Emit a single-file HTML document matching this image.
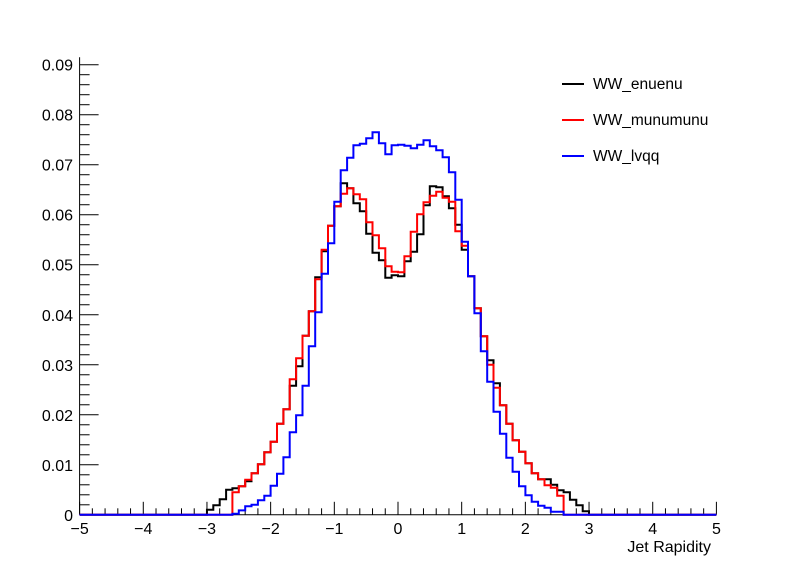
<!DOCTYPE html>
<html><head><meta charset="utf-8"><style>
html,body{margin:0;padding:0;background:#fff;}
svg{display:block;font-family:"Liberation Sans",Arial,sans-serif;}
</style></head><body>
<svg id="s" width="796" height="572" viewBox="0 0 796 572" xmlns="http://www.w3.org/2000/svg">
<rect x="0" y="0" width="796" height="572" fill="#fff"/>
<g id="ax" stroke="#000" stroke-width="1" fill="none"></g>
<g id="hs" fill="none" stroke-width="2"></g>
<g id="lab" font-size="16" fill="#000"></g>
<g font-size="15.5" fill="#000">
<line x1="562" y1="84" x2="584" y2="84" stroke="#000" stroke-width="2"/>
<text x="593" y="89">WW_enuenu</text>
<line x1="562" y1="120" x2="584" y2="120" stroke="#f00" stroke-width="2"/>
<text x="593" y="125">WW_munumunu</text>
<line x1="562" y1="156" x2="584" y2="156" stroke="#00f" stroke-width="2"/>
<text x="593" y="161">WW_lvqq</text>
<text x="711" y="552" text-anchor="end" font-size="16">Jet Rapidity</text>
</g>
</svg>
<script>
const L=79.6,R=716.4,B=514.8,T=57.2,YM=0.0915;
const X=v=>L+(v+5)/10*(R-L), Y=v=>B-v/YM*(B-T);
const ns="http://www.w3.org/2000/svg";
function el(p,t,a,txt){const e=document.createElementNS(ns,t);for(const k in a)e.setAttribute(k,a[k]);if(txt!=null)e.textContent=txt;document.getElementById(p).appendChild(e);}
el("ax","line",{x1:L,y1:B,x2:R,y2:B});
el("ax","line",{x1:L,y1:B,x2:L,y2:T});
for(let i=0;i<=50;i++){const v=-5+i*0.2;const maj=i%5==0;el("ax","line",{x1:X(v),y1:B,x2:X(v),y2:B-(maj?13:6.5)});
 if(maj){const n=Math.round(v);el("lab","text",{x:X(v),y:534,"text-anchor":"middle"},(n<0?"\u2212"+(-n):""+n));}}
for(let i=0;i<=45;i++){const v=i*0.002;const maj=i%5==0;el("ax","line",{x1:L,y1:Y(v),x2:L+(maj?19:10),y2:Y(v)});
 if(maj){const t=i==0?"0":(v).toFixed(2);el("lab","text",{x:73,y:Y(v)+6,"text-anchor":"end"},t);}}
const blk=[0.001,0.0019,0.0031,0.005,0.0053,0.0057,0.0067,0.0083,0.0101,0.0125,0.0146,0.0182,0.0211,0.0258,0.0297,0.0358,0.0407,0.0475,0.0527,0.0578,0.0617,0.0663,0.0653,0.0623,0.0607,0.0562,0.0524,0.0509,0.0474,0.0479,
0.0477,0.0507,0.0526,0.0561,0.0619,0.0657,0.0655,0.0637,0.0613,0.058,0.053,0.0477,0.0413,0.0357,0.0309,0.0263,0.0219,0.0182,0.0149,0.0126,0.0103,0.0083,0.0071,0.0071,0.006,0.0049,0.0045,0.003,0.0019,0.0007];
const red=[0,0,0,0,0.0045,0.0057,0.007,0.0083,0.0101,0.0125,0.0146,0.0182,0.0211,0.0271,0.0313,0.0358,0.0407,0.0471,0.053,0.0578,0.0617,0.0642,0.0653,0.0641,0.0631,0.0585,0.0559,0.0533,0.0497,0.0486,
0.0485,0.0517,0.0566,0.0601,0.0625,0.0638,0.0646,0.0634,0.0626,0.0567,0.0538,0.0477,0.0413,0.0357,0.03,0.0254,0.0219,0.0182,0.0149,0.0126,0.0103,0.0083,0.0071,0.0059,0.0054,0.0038,0,0,0,0];
const blu=[0,0,0,0,0.0002,0.00087,0.0017,0.002,0.0029,0.0038,0.0058,0.0082,0.0115,0.0165,0.0199,0.0258,0.0337,0.0405,0.0482,0.0543,0.0626,0.0689,0.0714,0.0739,0.0742,0.0753,0.0765,0.0743,0.0721,0.0739,
0.074,0.0738,0.0733,0.074,0.0749,0.0737,0.0729,0.0715,0.0685,0.063,0.0546,0.0477,0.0403,0.0327,0.0266,0.0206,0.0162,0.0114,0.0086,0.0057,0.0039,0.0026,0.0018,0.0014,0.0006,0.0006,0,0,0,0];
function path(d,c){let s="M"+L+" "+B+" H"+X(-3);for(let i=0;i<60;i++){const x0=-3+i*0.1;s+=" V"+Y(d[i]).toFixed(1)+" H"+X(x0+0.1).toFixed(1);}s+=" V"+B+" H"+R;el("hs","path",{d:s,stroke:c});}
path(blk,"#000");path(red,"#f00");path(blu,"#00f");
</script>
</body></html>
